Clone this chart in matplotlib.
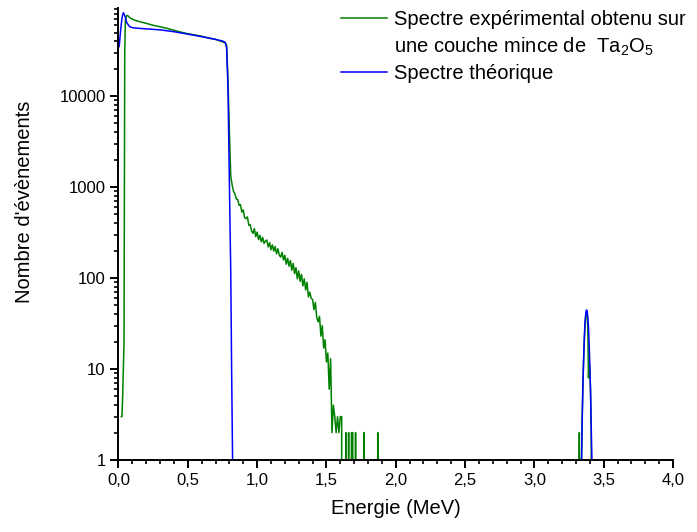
import matplotlib
matplotlib.use('Agg')
import matplotlib.pyplot as plt
import numpy as np
from matplotlib.lines import Line2D
from matplotlib.ticker import MultipleLocator, LogLocator, NullFormatter

plt.rcParams['font.family'] = ['Liberation Sans', 'DejaVu Sans']
plt.rcParams['mathtext.default'] = 'regular'

exp_front_energy = [0.020, 0.025, 0.030, 0.040, 0.045, 0.050, 0.060, 0.070, 0.080,
                    0.100, 0.125, 0.150, 0.200, 0.250, 0.300, 0.350, 0.400, 0.450,
                    0.500, 0.550, 0.600, 0.650, 0.700, 0.740, 0.770, 0.780, 0.790,
                    0.800, 0.810]
exp_front_counts = [3, 3, 5, 20, 30000, 70000, 77000, 76000, 73000,
                    70000, 67500, 66000, 63000, 60000, 57800, 55500, 53000, 50500,
                    48500, 47000, 45500, 43500, 42000, 40000, 38500, 36000, 15000,
                    4000, 1300]

# tail channels 0.82 .. 1.89 MeV (0.01 MeV step)
exp_tail_energy = np.arange(82, 190) / 100
exp_tail_counts = [1050, 900, 840, 740, 730, 630, 640, 530,
                   560, 460, 450, 470, 380, 385, 330, 310, 350, 285,
                   320, 265, 295, 250, 280, 240, 255, 262, 220, 245,
                   205, 232, 198, 222, 185, 210, 178, 170, 192, 158,
                   178, 142, 165, 135, 156, 122, 145, 112, 130, 98,
                   120, 92, 110, 82, 98, 74, 90, 62, 70, 60,
                   58, 45, 54, 37, 33, 38, 23, 30, 17, 21,
                   12, 15, 6, 13, 2, 4, 3, 2, 3, 2,
                   3, 3, 0, 0, 2, 0, 2, 0, 2, 2,
                   0, 2, 0, 0, 0, 0, 0, 2, 0, 0,
                   0, 0, 0, 0, 0, 0, 0, 2, 0, 0]

exp_peak_energy = [3.315, 3.320, 3.324, 3.328, 3.335, 3.340, 3.345, 3.350, 3.355,
                   3.360, 3.365, 3.370, 3.375, 3.380, 3.385, 3.390, 3.395, 3.400,
                   3.405, 3.410, 3.415, 3.420]
exp_peak_counts = [0, 0, 2, 0, 0, 1, 3, 7, 12,
                   20, 30, 38, 42, 40, 30, 8, 12, 10,
                   6, 2, 0, 0]

# theoretical spectrum
th_front_energy = [0.005, 0.015, 0.025, 0.035, 0.045, 0.060, 0.080, 0.100, 0.150,
                   0.200, 0.300, 0.400, 0.500, 0.600, 0.700, 0.750, 0.770, 0.780,
                   0.790, 0.800, 0.810, 0.816, 0.823, 0.830]
th_front_counts = [35000, 52000, 72000, 82500, 77000, 64000, 58000, 56500, 55500,
                   54800, 53500, 51000, 48000, 45000, 42000, 40300, 39000, 34000,
                   12000, 1100, 110, 10, 1, 0]

th_peak_energy = [3.330, 3.340, 3.345, 3.350, 3.355, 3.360, 3.365, 3.370, 3.375,
                  3.380, 3.385, 3.390, 3.395, 3.400, 3.405, 3.410, 3.415, 3.420]
th_peak_counts = [0, 1, 2.8, 6.5, 13, 22, 32, 40, 44.5,
                  44, 38, 29, 19, 11, 5.5, 2.3, 1, 0]

x_ticks = [0.0, 0.5, 1.0, 1.5, 2.0, 2.5, 3.0, 3.5, 4.0]
x_tick_labels = ['0,0', '0,5', '1,0', '1,5', '2,0', '2,5', '3,0', '3,5', '4,0']
y_ticks = [1, 10, 100, 1000, 10000]
y_tick_labels = ['1', '10', '100', '1000', '10000']

legend_labels = ['Spectre expérimental obtenu sur',
                 'une couche mince de  Ta$_2$O$_5$',
                 'Spectre théorique']

exp_energy = np.concatenate([exp_front_energy, exp_tail_energy, exp_peak_energy])
exp_counts = np.concatenate([exp_front_counts, exp_tail_counts, exp_peak_counts])
th_energy = np.concatenate([th_front_energy, th_peak_energy])
th_counts = np.concatenate([th_front_counts, th_peak_counts])

fig = plt.figure(figsize=(6.97, 5.32), dpi=100)
ax = fig.add_axes([0.1700, 0.1353, 0.7956, 0.8497])

green, = ax.plot(exp_energy, exp_counts, color='#008000', lw=1.1)
blue, = ax.plot(th_energy, th_counts, color='#0000ff', lw=1.1)

ax.set_yscale('log')
ax.set_xlim(0, 4.0)
ax.set_ylim(1, 93000)

ax.set_xticks(x_ticks)
ax.set_xticklabels(x_tick_labels)
ax.xaxis.set_minor_locator(MultipleLocator(0.1))
ax.set_yticks(y_ticks)
ax.set_yticklabels(y_tick_labels)
ax.yaxis.set_minor_locator(LogLocator(base=10, subs=np.arange(2, 10)))
ax.yaxis.set_minor_formatter(NullFormatter())

ax.spines['top'].set_visible(False)
ax.spines['right'].set_visible(False)
for s in ['left', 'bottom']:
    ax.spines[s].set_linewidth(1.4)
ax.tick_params(which='major', direction='out', length=5.8, width=1.4,
               labelsize=12, pad=3.5)
ax.tick_params(which='minor', direction='out', length=2.9, width=1.2)

ax.set_xlabel('Energie (MeV)', fontsize=14.5, labelpad=8)
ax.set_ylabel("Nombre d'évènements", fontsize=14.5)
ax.yaxis.set_label_coords(-0.153, 0.572)

handles = [green, Line2D([], [], color='none'), blue]
ax.legend(handles, legend_labels, loc='upper left',
          bbox_to_anchor=(341 / 697, 1 - 10 / 532), bbox_transform=fig.transFigure,
          frameon=False, fontsize=14.5, handlelength=2.28, handletextpad=0.35,
          labelspacing=0.32, borderpad=0, borderaxespad=0)

plt.savefig('out.png', dpi=100)
